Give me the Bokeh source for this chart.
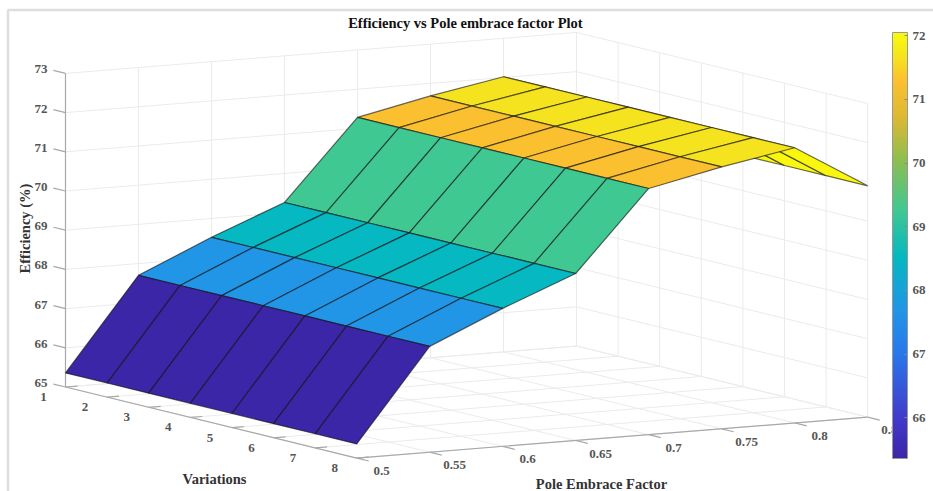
import math
from bokeh.plotting import figure
from bokeh.models import Range1d, ColumnDataSource, ColorBar, LinearColorMapper, FixedTicker
from bokeh.core.properties import value
from bokeh.embed import file_html
from bokeh.resources import INLINE

# ---- data ----
variations = [1, 2, 3, 4, 5, 6, 7, 8]
pole_embrace = [0.5, 0.55, 0.6, 0.65, 0.7, 0.75, 0.8, 0.85]
efficiency_v1 = [65.36, 67.7, 68.52, 69.26, 71.28, 71.68, 72.02, 70.9]
efficiency_v2 = [65.36, 67.7, 68.52, 69.26, 71.28, 71.68, 72.02, 70.9]
efficiency_v3 = [65.36, 67.7, 68.52, 69.26, 71.28, 71.68, 72.02, 70.9]
efficiency_v4 = [65.36, 67.7, 68.52, 69.26, 71.28, 71.68, 72.02, 70.9]
efficiency_v5 = [65.36, 67.7, 68.52, 69.26, 71.28, 71.68, 72.02, 70.9]
efficiency_v6 = [65.36, 67.7, 68.52, 69.26, 71.28, 71.68, 72.02, 70.9]
efficiency_v7 = [65.36, 67.7, 68.52, 69.26, 71.28, 71.68, 72.02, 70.9]
efficiency_v8 = [65.36, 67.7, 68.52, 69.26, 71.28, 71.68, 72.02, 70.9]
efficiency = [efficiency_v1, efficiency_v2, efficiency_v3, efficiency_v4,
              efficiency_v5, efficiency_v6, efficiency_v7, efficiency_v8]
z_ticks = [65, 66, 67, 68, 69, 70, 71, 72, 73]
cbar_ticks = [66, 67, 68, 69, 70, 71, 72]
cbar_low, cbar_high = 65.36, 72.05

title = "Efficiency vs Pole embrace factor Plot"
xlabel = "Pole Embrace Factor"
ylabel = "Variations"
zlabel = "Efficiency (%)"

# ---- camera: nearly orthographic view of the MATLAB surf axes ----
ORIGIN = (65.0, 386.5)
V_STEP = (41.6, 10.15)
P_STEP = (73.0 / 0.05, -5.85 / 0.05)
Z_STEP = 39.2


def proj(v, pe, z):
    dv, dp, dz = v - 1, pe - 0.5, z - 65
    return (ORIGIN[0] + dv * V_STEP[0] + dp * P_STEP[0],
            ORIGIN[1] + dv * V_STEP[1] + dp * P_STEP[1] - dz * Z_STEP)


PAR = [(0, (60, 38, 168)), (.1, (66, 60, 205)), (.245, (40, 120, 235)), (.35, (33, 150, 230)),
       (.474, (5, 184, 192)), (.585, (65, 200, 145)), (.70, (140, 190, 80)), (.80, (220, 185, 50)),
       (.889, (253, 192, 48)), (.949, (245, 230, 30)), (1, (249, 249, 15))]


def cmap(f):
    f = max(0, min(1, f))
    for (a, ca), (b, cb) in zip(PAR, PAR[1:]):
        if f <= b:
            t = (f - a) / (b - a)
            return "#%02x%02x%02x" % tuple(round(x + (y - x) * t) for x, y in zip(ca, cb))
    return "#f9f90f"


def color(z):
    return cmap((z - cbar_low) / (cbar_high - cbar_low))


W, H = 933, 491
p = figure(width=W, height=H, output_backend="svg", toolbar_location=None,
           x_range=Range1d(0, W), y_range=Range1d(H, 0),
           x_axis_location=None, y_axis_location=None, min_border=0, outline_line_color=None)
p.grid.visible = False
p.background_fill_color = "white"
p.border_fill_color = "white"

FONT = value("Liberation Serif")
GRID = "#ebebeb"
AX = "#a8a8a8"


def seg(a, b, c=GRID, w=1.0):
    p.line([a[0], b[0]], [a[1], b[1]], line_color=c, line_width=w)


# outer picture frame
p.line([7.5, 7.5, 933], [491, 9.5, 9.5], line_color="#dedede", line_width=2.5)

v0, v1 = variations[0], variations[-1]
p0, p1 = pole_embrace[0], pole_embrace[-1]
z0, z1 = z_ticks[0], z_ticks[-1]

# walls and floor grid
for pe in pole_embrace:
    seg(proj(v0, pe, z0), proj(v0, pe, z1))
    seg(proj(v0, pe, z0), proj(v1, pe, z0))
for v in variations:
    seg(proj(v, p1, z0), proj(v, p1, z1))
    seg(proj(v, p0, z0), proj(v, p1, z0))
for z in z_ticks:
    seg(proj(v0, p0, z), proj(v0, p1, z))
    seg(proj(v0, p1, z), proj(v1, p1, z))

# axis lines and ticks
seg(proj(v0, p0, z0), proj(v0, p0, z1), AX, 1.2)
seg(proj(v0, p0, z0), proj(v1, p0, z0), AX, 1.2)
seg(proj(v1, p0, z0), proj(v1, p1, z0), AX, 1.2)
TICK_V = 0.29
TICK_P = 0.0082
for z in z_ticks:
    seg(proj(v0 - TICK_V, p0, z), proj(v0, p0, z), AX, 1.2)
    x, y = proj(v0 - TICK_V, p0, z)
    p.text([x - 6], [y - 1], text=[str(z)], text_font=FONT, text_font_style="bold", text_font_size="13px",
           text_color="#555555", text_align="right", text_baseline="middle")
for v in variations:
    seg(proj(v, p0, z0), proj(v, p0 + TICK_P, z0), AX, 1.2)
    x, y = proj(v, p0, z0)
    p.text([x - 22], [y + 10], text=[str(v)], text_font=FONT, text_font_style="bold", text_font_size="13px",
           text_color="#555555", text_align="center", text_baseline="middle")
for pe in pole_embrace:
    seg(proj(v1, pe, z0), proj(v1 + TICK_V, pe, z0), AX, 1.2)
    x, y = proj(v1, pe, z0)
    p.text([x + 25], [y + 13], text=["%g" % pe], text_font=FONT, text_font_style="bold", text_font_size="13px",
           text_color="#555555", text_align="center", text_baseline="middle")

# surface, painted back to front; flat shading uses the low-index corner
xs, ys, fills = [], [], []
for j in range(len(pole_embrace) - 2, -1, -1):
    for i in range(len(variations) - 1):
        corners = [(i, j), (i + 1, j), (i + 1, j + 1), (i, j + 1)]
        pts = [proj(variations[a], pole_embrace[b], efficiency[a][b]) for a, b in corners]
        xs.append([q[0] for q in pts])
        ys.append([q[1] for q in pts])
        fills.append(color(efficiency[i][j]))
src = ColumnDataSource(dict(xs=xs, ys=ys, fill=fills))
p.patches("xs", "ys", source=src, fill_color="fill", line_color="#101010", line_alpha=0.62, line_width=1.2)

# titles
p.text([465], [22], text=[title], text_font=FONT, text_font_style="bold", text_font_size="14.5px",
       text_color="#111111", text_align="center", text_baseline="middle")
p.text([214], [478], text=[ylabel], text_font=FONT, text_font_style="bold", text_font_size="14.5px",
       text_color="#333333", text_align="center", text_baseline="middle")
p.text([601], [483.5], text=[xlabel], text_font=FONT, text_font_style="bold", text_font_size="14.5px",
       text_color="#333333", text_align="center", text_baseline="middle")
p.text([24], [228], text=[zlabel], angle=math.pi / 2, text_font=FONT, text_font_style="bold", text_font_size="14.5px",
       text_color="#333333", text_align="center", text_baseline="middle")

# colour bar
mapper = LinearColorMapper(low=cbar_low, high=cbar_high,
                           palette=[cmap(k / 255) for k in range(256)])
cb = ColorBar(color_mapper=mapper, ticker=FixedTicker(ticks=cbar_ticks), location=(892, 33),
              width=15, height=426, padding=0, margin=0, background_fill_alpha=0,
              major_label_text_font="Liberation Serif", major_label_text_font_style="bold",
              major_label_text_font_size="13px", major_label_text_color="#555555",
              major_tick_line_color="#888888", major_tick_in=3, major_tick_out=0, minor_tick_out=0,
              bar_line_color="#999999", label_standoff=5)
p.add_layout(cb, "center")

open("out.html", "w").write(file_html(p, INLINE))
